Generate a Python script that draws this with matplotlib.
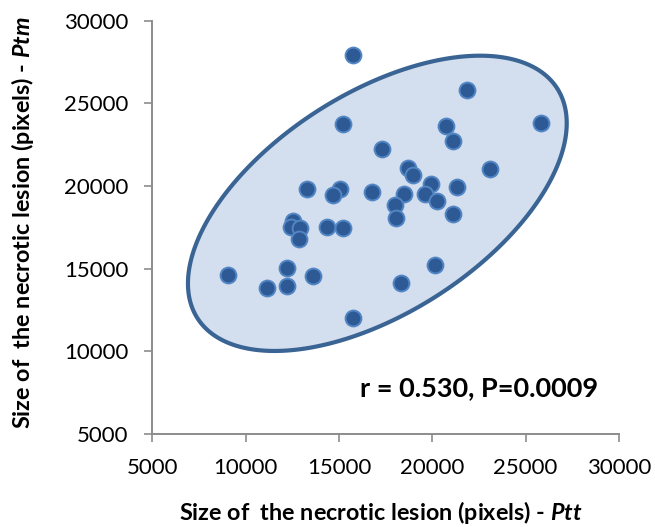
import numpy as np
import matplotlib
matplotlib.use("Agg")
import matplotlib.pyplot as plt

plt.rcParams['font.family'] = ['Lato', 'DejaVu Sans']
plt.rcParams['mathtext.fontset'] = 'custom'
plt.rcParams['mathtext.bfit'] = 'Lato:italic:bold'
plt.rcParams['mathtext.it'] = 'Lato:italic'
plt.rcParams['mathtext.bf'] = 'Lato:bold'
plt.rcParams['mathtext.rm'] = 'Lato'

# Data: lesion size Ptt (x) vs Ptm (y), pixels
ptt = [15760, 21850, 15225, 25820, 20740, 21110, 17330, 18700, 18970, 23080,
       19920, 21330, 13300, 15050, 14690, 16760, 18470, 19600, 17990, 20230,
       18060, 21135, 12550, 12410, 12910, 14370, 15210, 12870, 12190, 9050,
       13620, 11120, 12230, 20150, 18320, 15760]
ptm = [27900, 25820, 23750, 23810, 23630, 22750, 22250, 21100, 20640, 21020,
       20100, 19970, 19810, 19810, 19430, 19620, 19530, 19520, 18860, 19090,
       18080, 18300, 17910, 17550, 17490, 17530, 17470, 16770, 15030, 14640,
       14560, 13840, 13940, 15230, 14140, 12000]

x_ticks = [5000, 10000, 15000, 20000, 25000, 30000]
y_ticks = [5000, 10000, 15000, 20000, 25000, 30000]
annotation = "r = 0.530, P=0.0009"
xlabel = r"Size of  the necrotic lesion (pixels) - $\mathbfit{Ptt}$"
ylabel = r"Size of  the necrotic lesion (pixels) - $\mathbfit{Ptm}$"

fig = plt.figure(figsize=(6.55, 5.27), dpi=100)
ax = fig.add_axes([0.2325, 0.1765, 0.7125, 0.7842])
ax.set_xlim(5000, 30000)
ax.set_ylim(5000, 30000)

# Ellipse drawn in pixel geometry, converted to data coords
sx = 5000 / 93.4
sy = 5000 / 82.6
cx, cy = 5000 + (377.5 - 152.3) * sx, 5000 + (434 - 203.5) * sy
a, b, ang = 213.5, 110.0, np.deg2rad(32.5)
t = np.linspace(0, 2 * np.pi, 400)
px = a * np.cos(t) * np.cos(ang) - b * np.sin(t) * np.sin(ang)
py = a * np.cos(t) * np.sin(ang) + b * np.sin(t) * np.cos(ang)
ex = cx + px * sx
ey = cy + py * sy
ax.fill(ex, ey, facecolor='#D3DEEE', edgecolor='#3A6494', linewidth=3.0, zorder=1)

ax.scatter(ptt, ptm, s=130, facecolor='#2D5A94', edgecolor='#5285C4',
           linewidth=1.4, zorder=3)

ax.text(0.445, 0.111, annotation, transform=ax.transAxes, fontsize=19.5,
        fontweight='bold', ha='left', va='center', color='black')

ax.set_xticks(x_ticks)
ax.set_yticks(y_ticks)
ax.set_xticklabels([str(v) for v in x_ticks])
ax.set_yticklabels([str(v) for v in y_ticks])
ax.tick_params(axis='both', direction='out', length=6, width=1.2,
               color='#8C8C8C', labelsize=16, pad=11)
for s in ['top', 'right']:
    ax.spines[s].set_visible(False)
for s in ['left', 'bottom']:
    ax.spines[s].set_color('#8C8C8C')
    ax.spines[s].set_linewidth(1.4)

fig.text(0.582, 0.027, xlabel, ha='center', va='center', fontsize=16.8,
         fontweight='bold')
fig.text(0.034, 0.578, ylabel, ha='center', va='center', fontsize=16.8,
         fontweight='bold', rotation=90)

fig.savefig('out.png', dpi=100)
